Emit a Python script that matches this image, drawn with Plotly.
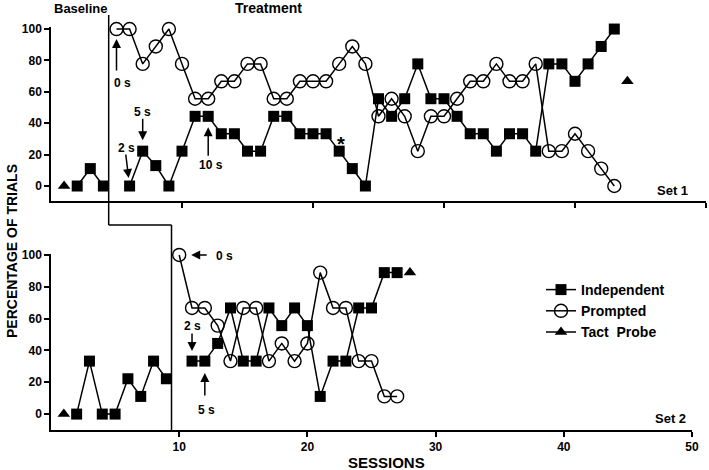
import plotly.graph_objects as go

# ---------------- data ----------------
# Set 1 (top panel)
s1_base_sessions = [2, 3, 4]
s1_base_indep = [0, 11.1, 0]
s1_probe_sessions = [1, None, 44]
s1_probe_vals = [0, None, 66.7]
s1_treat_indep_sessions = list(range(6, 44))
s1_treat_indep = [0, 22.2, 13, 0, 22.2, 44.4, 44.4, 33.3, 33.3, 22.2, 22.2, 44.4, 44.4,
                  33.3, 33.3, 33.3, 22.2, 11.1, 0, 55.6, 44.4, 55.6, 77.8, 55.6, 55.6,
                  44.4, 33.3, 33.3, 22.2, 33.3, 33.3, 22.2, 77.8, 77.8, 66.7, 77.8, 88.9, 100]
s1_treat_prompt_sessions = list(range(5, 44))
s1_treat_prompt = [100, 100, 77.8, 88.9, 100, 77.8, 55.6, 55.6, 66.7, 66.7, 77.8, 77.8,
                   55.6, 55.6, 66.7, 66.7, 66.7, 77.8, 88.9, 77.8, 44.4, 55.6, 44.4, 22.2,
                   44.4, 44.4, 55.6, 66.7, 66.7, 77.8, 66.7, 66.7, 77.8, 22.2, 22.2, 33.3,
                   22.2, 11.1, 0]

# Set 2 (bottom panel)
s2_base_sessions = [2, 3, 4, 5, 6, 7, 8, 9]
s2_base_indep = [0, 33.3, 0, 0, 22.2, 11.1, 33.3, 22.2]
s2_probe_sessions = [1, None, 28]
s2_probe_vals = [0, None, 88.9]
s2_treat_indep_sessions = list(range(11, 28))
s2_treat_indep = [33.3, 33.3, 44.4, 66.7, 33.3, 33.3, 66.7, 55.6, 66.7, 55.6, 11.1,
                  33.3, 33.3, 66.7, 66.7, 88.9, 88.9]
s2_treat_prompt_sessions = list(range(10, 28))
s2_treat_prompt = [100, 66.7, 66.7, 55.6, 33.3, 66.7, 66.7, 33.3, 44.4, 33.3, 44.4,
                   88.9, 66.7, 66.7, 33.3, 33.3, 11.1, 11.1]

phase_change_s1 = 4.5
phase_change_s2 = 9.4

x_ticks = [10, 20, 30, 40, 50]
y_ticks = [0, 20, 40, 60, 80, 100]

# ---------------- styling ----------------
FONT = "Liberation Sans, Arial, sans-serif"
W, H = 709, 470
LINE = dict(color="black", width=1.5)
SQ = dict(symbol="square", size=11, color="black")
CI = dict(symbol="circle-open", size=13, color="black", line=dict(width=1.4, color="black"))
TR = dict(symbol="triangle-up", size=11, color="black")

fig = go.Figure()


def add(x, y, marker, xa, ya, name, show, mode="lines+markers"):
    fig.add_trace(go.Scatter(x=x, y=y, mode=mode, marker=marker, line=LINE,
                             xaxis=xa, yaxis=ya, name=name, showlegend=show,
                             cliponaxis=False, connectgaps=False))


# top panel
add(s1_base_sessions, s1_base_indep, SQ, "x", "y", "Independent", False)
add(s1_treat_prompt_sessions, s1_treat_prompt, CI, "x", "y", "Prompted", False)
add(s1_treat_indep_sessions, s1_treat_indep, SQ, "x", "y", "Independent", False)
add(s1_probe_sessions, s1_probe_vals, TR, "x", "y", "Tact  Probe", False)
# bottom panel
add(s2_base_sessions, s2_base_indep, SQ, "x2", "y2", "Independent", False)
add(s2_treat_prompt_sessions, s2_treat_prompt, CI, "x2", "y2", "Prompted", True)
add(s2_treat_indep_sessions, s2_treat_indep, SQ, "x2", "y2", "Independent", True)
add(s2_probe_sessions, s2_probe_vals, TR, "x2", "y2", "Tact  Probe", True)
fig.data[6].legendrank = 1
fig.data[5].legendrank = 2
fig.data[7].legendrank = 3

axis_common = dict(showline=True, linecolor="black", linewidth=1.5, ticks="outside",
                   ticklen=5, tickwidth=1.5, tickcolor="black", showgrid=False,
                   zeroline=False, automargin=False, mirror=False, layer="above traces",
                   tickfont=dict(family=FONT, size=12, color="black"))


def py(p):
    return 1 - p / H


def px(p):
    return p / W


fig.update_layout(
    template="none",
    width=W, height=H, margin=dict(l=0, r=0, t=0, b=0, pad=0, autoexpand=False),
    plot_bgcolor="white", paper_bgcolor="white",
    font=dict(family=FONT, color="black"),
    xaxis=dict(domain=[px(51), px(706)], range=[0, 50], tickvals=x_ticks,
               showticklabels=False, anchor="y", **axis_common),
    yaxis=dict(domain=[py(201), py(27)], range=[-9.55, 101.3], tickvals=y_ticks,
               ticktext=["<b>%d</b>" % v for v in y_ticks], anchor="x", **axis_common),
    xaxis2=dict(domain=[px(51), px(692)], range=[0, 50], tickvals=x_ticks,
                ticktext=["<b>%d</b>" % v for v in x_ticks], anchor="y2", **axis_common),
    yaxis2=dict(domain=[py(430), py(254)], range=[-10, 100.6], tickvals=y_ticks,
                ticktext=["<b>%d</b>" % v for v in y_ticks], anchor="x2", **axis_common),
    legend=dict(x=px(541), y=py(274), xanchor="left", yanchor="top",
                font=dict(family=FONT, size=14, color="black", weight="bold"),
                itemwidth=30, bgcolor="rgba(0,0,0,0)", tracegroupgap=0),
    showlegend=True,
)

# phase change lines
pl = dict(color="black", width=1.5)
fig.add_shape(type="line", xref="x2", yref="paper", x0=phase_change_s1, x1=phase_change_s1,
              y0=py(15), y1=py(225), line=pl)
fig.add_shape(type="line", xref="x2", yref="paper", x0=phase_change_s1, x1=phase_change_s2,
              y0=py(225), y1=py(225), line=pl)
fig.add_shape(type="line", xref="x2", yref="paper", x0=phase_change_s2, x1=phase_change_s2,
              y0=py(225), y1=py(430), line=pl)

anns = []


def txt(text, x, y, xref="paper", yref="paper", size=13, **kw):
    anns.append(dict(text="<b>%s</b>" % text, x=x, y=y, xref=xref, yref=yref,
                     xanchor="center", yanchor="middle",
                     showarrow=False, font=dict(family=FONT, size=size, color="black"), **kw))


def arrow(x, y, xref, yref, ax, ay, standoff):
    anns.append(dict(text="", x=x, y=y, xref=xref, yref=yref, ax=ax, ay=ay,
                     showarrow=True, arrowhead=2, arrowsize=1.2, arrowwidth=1.5,
                     arrowcolor="black", standoff=standoff))


txt("Baseline", px(80), py(9))
txt("Treatment", px(268), py(8), size=14)
txt("Set 1", px(672), py(190))
txt("Set 2", px(670), py(418))
txt("PERCENTAGE OF TRIALS", px(12), py(251), size=14, textangle=-90)
txt("SESSIONS", px(386), py(462), size=15)

# top panel arrows
arrow(5, 100, "x", "y", 0, 43, 10)
txt("0 s", 5.42, 65.6, "x", "y", size=12)
arrow(7, 22.2, "x", "y", 0, -34, 11)
txt("5 s", 6.95, 47.1, "x", "y", size=12)
arrow(6, 0, "x", "y", -4, -33, 8)
txt("2 s", 5.73, 24.2, "x", "y", size=12)
arrow(12, 44.4, "x", "y", 0, 41, 11)
txt("10 s", 12.2, 13.4, "x", "y", size=12)
txt("*", 22.1, 27, "x", "y", size=20)
# bottom panel arrows
arrow(10, 100, "x2", "y2", 29, 0, 12)
txt("0 s", 13.5, 99.4, "x2", "y2", size=12)
arrow(11, 33.3, "x2", "y2", 0, -29, 10)
txt("2 s", 11.0, 55.3, "x2", "y2", size=12)
arrow(12, 33.3, "x2", "y2", 0, 36, 12)
txt("5 s", 12.15, 2.5, "x2", "y2", size=12)

fig.update_layout(annotations=anns)
fig.write_html("out.html", config={"displayModeBar": False},
               post_script="document.body.style.margin='0px';")
